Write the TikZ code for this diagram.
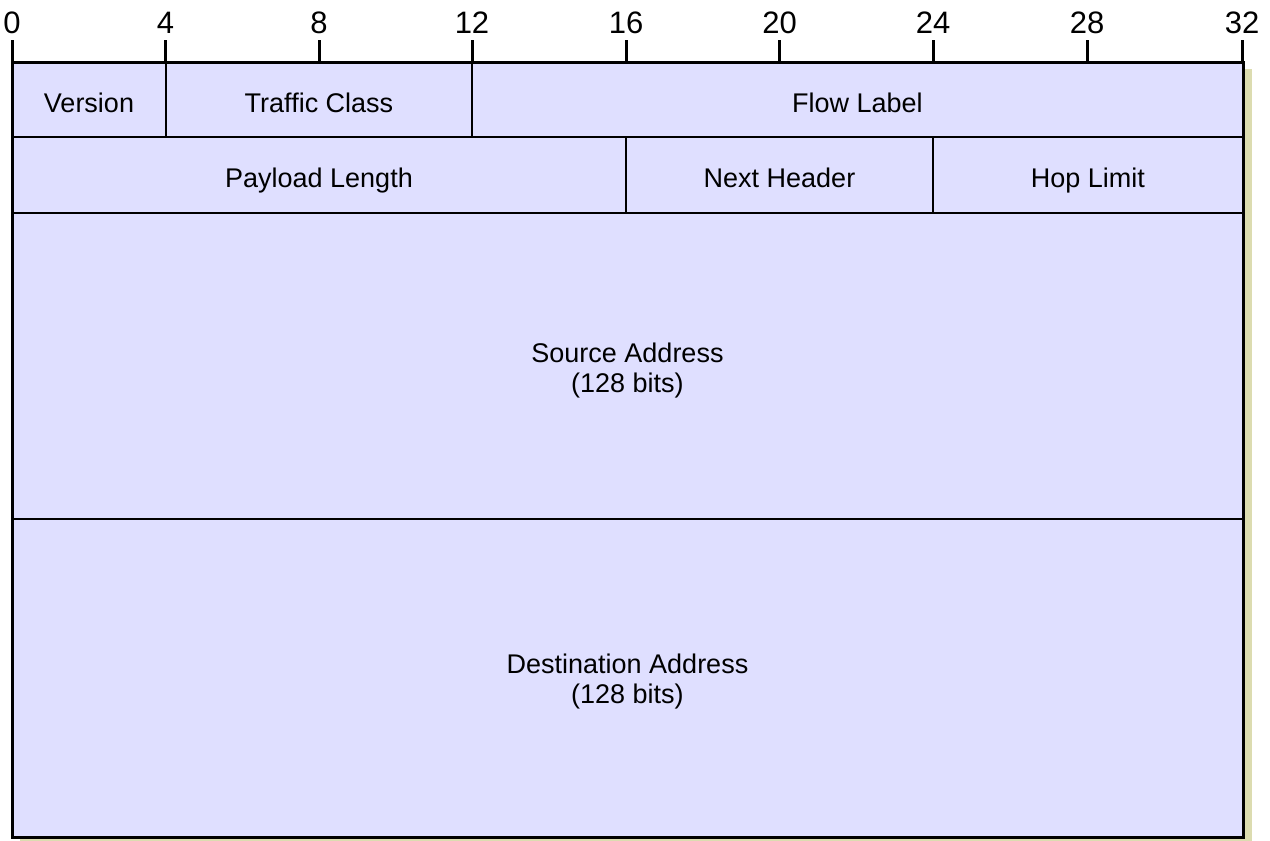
\documentclass[tikz,border=0pt]{standalone}
\usepackage{fontspec}
\setmainfont{Liberation Sans}
\definecolor{fieldfill}{RGB}{223,223,255}
\definecolor{shadowc}{RGB}{220,220,176}
\begin{document}
\begin{tikzpicture}[x=1pt,y=-1pt,
  field/.style={draw=black, line width=1.6pt, fill=fieldfill, inner sep=0pt, outer sep=0pt},
  fieldlbl/.style={anchor=base, inner sep=0pt, align=center, font=\fontsize{27}{30}\selectfont},
  ticklbl/.style={anchor=base, inner sep=0pt, font=\fontsize{31}{34}\selectfont},
  tickline/.style={line width=3pt}]
\useasboundingbox (0,0) rectangle (1270,841);
% shadow
\fill[shadowc] (20,69) rectangle (1252,846);
% fields
\node[field, minimum width=154pt, minimum height=75pt] (ver) at (89,99.5) {};
\node[field, minimum width=306pt, minimum height=75pt] (tc) at (319,99.5) {};
\node[field, minimum width=771pt, minimum height=75pt] (fl) at (857.5,99.5) {};
\node[field, minimum width=614pt, minimum height=76pt] (pl) at (319,175) {};
\node[field, minimum width=307pt, minimum height=76pt] (nh) at (779.5,175) {};
\node[field, minimum width=310pt, minimum height=76pt] (hl) at (1088,175) {};
\node[field, minimum width=1231pt, minimum height=306pt] (src) at (627.5,366) {};
\node[field, minimum width=1231pt, minimum height=318pt] (dst) at (627.5,678) {};
% labels
\node[fieldlbl] (verl) at (89,112) {Version};
\node[fieldlbl] (tcl) at (319,112) {Traffic Class};
\node[fieldlbl] (fll) at (857.5,112) {Flow Label};
\node[fieldlbl] (pll) at (319,187) {Payload Length};
\node[fieldlbl] (nhl) at (779.5,187) {Next Header};
\node[fieldlbl] (hll) at (1088,187) {Hop Limit};
\node[fieldlbl] (srcl) at (627.5,392) {Source Address\\(128 bits)};
\node[fieldlbl] (dstl) at (627.5,703) {Destination Address\\(128 bits)};
% outer border
\draw[line width=3pt] (ver.north west) rectangle (dst.south east);
% ticks
\foreach \b/\x in {0/12,4/165.5,8/319,12/472,16/626,20/779.5,24/933,28/1087,32/1242}{
  \coordinate (k\b) at (\x,62);
  \draw[tickline] (k\b) -- ++(0,-22);
  \node[ticklbl] (t\b) at (\x,33) {\b};
}
\end{tikzpicture}
\end{document}
